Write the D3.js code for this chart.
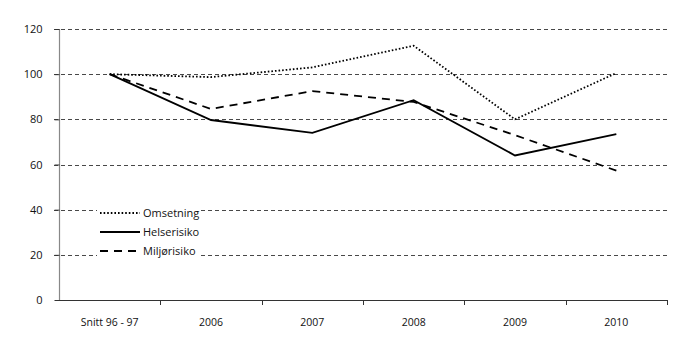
<!DOCTYPE html>
<html><head><meta charset="utf-8">
<script src="https://cdn.jsdelivr.net/npm/d3@7"></script>
<style>body{margin:0;background:#fff}svg{display:block;font-family:"Open Sans",sans-serif}</style>
</head><body><svg id="c" width="700" height="352"></svg>
<script>
const categories = ["Snitt 96 - 97","2006","2007","2008","2009","2010"];
const omsetning = [100, 98.7, 103, 112.6, 80, 100.5];
const helserisiko = [100, 79.7, 74, 88.5, 64, 73.5];
const miljorisiko = [100, 84.6, 92.5, 87.7, 73, 57.3];
const yTicks = [0,20,40,60,80,100,120];
const seriesNames = ["Omsetning","Helserisiko","Miljørisiko"];

const svg = d3.select("#c");
const L=59, R=667, T=29, B=300;
const x = d3.scaleBand().domain(categories).range([L,R]);
const y = d3.scaleLinear().domain([0,120]).range([B,T]);

// gridlines
svg.append("g").selectAll("line").data(yTicks.filter(d=>d>0)).join("line")
  .attr("x1",L-5).attr("x2",R).attr("y1",d=>Math.round(y(d))+0.5).attr("y2",d=>Math.round(y(d))+0.5)
  .attr("stroke","#333").attr("stroke-width",0.9).attr("stroke-dasharray","4,3");

// y axis
const ya = svg.append("g").attr("transform",`translate(${L+0.5},0)`)
  .call(d3.axisLeft(y).tickValues(yTicks).tickSize(5).tickPadding(12));
ya.select(".domain").attr("stroke","#888").attr("stroke-width",1.2).attr("d",`M0,${T}V${B}`);
ya.selectAll(".tick line").attr("stroke","#333");
ya.selectAll("text").attr("font-size",11).attr("fill","#111").attr("font-family","'Open Sans',sans-serif");

// x axis
const xa = svg.append("g").attr("transform",`translate(0,${B+0.5})`)
  .call(d3.axisBottom(x).tickSize(0).tickPadding(18));
xa.select(".domain").attr("stroke","#333").attr("d",`M${L},0H${R}`);
xa.selectAll("text").attr("font-size",10.5).attr("fill","#111").attr("font-family","'Open Sans',sans-serif");
svg.append("g").selectAll("line").data(categories).join("line")
  .attr("x1",d=>Math.round(x(d)+x.bandwidth())+0.5).attr("x2",d=>Math.round(x(d)+x.bandwidth())+0.5)
  .attr("y1",B).attr("y2",B+5).attr("stroke","#333").attr("stroke-width",1);

const line = d3.line().x((d,i)=>x(categories[i])+x.bandwidth()/2).y(d=>y(d));
const styles = [
  {data:omsetning, dash:"1.6,2", w:1.8},
  {data:helserisiko, dash:null, w:1.8},
  {data:miljorisiko, dash:"8,6", w:1.8}
];

// legend background
svg.append("rect").attr("x",97).attr("y",203).attr("width",101).attr("height",56).attr("fill","#fff");

styles.forEach(s=>{
  svg.append("path").datum(s.data).attr("d",line).attr("fill","none")
    .attr("stroke","#000").attr("stroke-width",s.w)
    .attr("stroke-dasharray",s.dash).attr("stroke-linejoin","miter");
});

// legend
const lg = svg.append("g");
seriesNames.forEach((n,i)=>{
  const yy = 213 + i*19;
  lg.append("line").attr("x1",100).attr("x2",140).attr("y1",yy).attr("y2",yy)
    .attr("stroke","#000").attr("stroke-width",styles[i].w).attr("stroke-dasharray",styles[i].dash);
  lg.append("text").attr("x",143).attr("y",yy+4).attr("font-size",11).attr("fill","#111").text(n);
});
</script></body></html>
